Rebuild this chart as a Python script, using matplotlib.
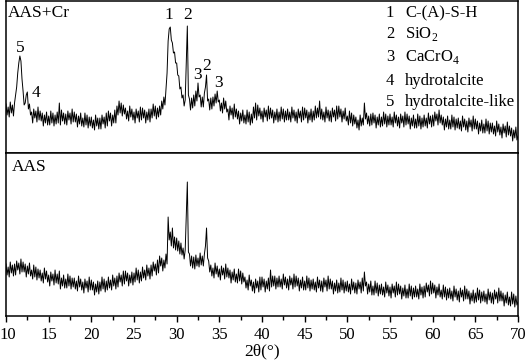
import numpy as np
import matplotlib
matplotlib.use("Agg")
import matplotlib.pyplot as plt
import matplotlib.transforms as mtransforms

plt.rcParams['font.family'] = ['Liberation Serif', 'DejaVu Serif']
plt.rcParams['mathtext.fontset'] = 'custom'
plt.rcParams['mathtext.rm'] = 'Liberation Serif'

# 2theta grid (degrees), 0.125 step from 10 to 70
two_theta = np.arange(481) * 0.125 + 10.0

# AAS+Cr intensity (arbitrary units), 8 values per degree
aas_cr = [
    49, 38, 46, 36, 51, 40, 48, 37,
    50, 58, 66, 80, 90, 97, 92, 74,
    62, 48, 50, 58, 61, 44, 49, 38,
    41, 30, 44, 35, 42, 31, 46, 33,
    42, 32, 40, 27, 38, 30, 41, 28,
    37, 28, 42, 30, 40, 27, 38, 29,
    41, 30, 50, 28, 43, 32, 40, 29,
    39, 28, 42, 33, 40, 29, 44, 31,
    41, 31, 39, 26, 37, 29, 40, 27,
    35, 26, 40, 28, 38, 25, 36, 27,
    36, 25, 33, 23, 38, 27, 35, 24,
    35, 24, 38, 29, 36, 25, 40, 27,
    42, 32, 40, 27, 38, 30, 43, 30,
    47, 38, 52, 40, 50, 37, 48, 39,
    45, 34, 42, 32, 47, 36, 44, 33,
    41, 30, 44, 35, 42, 31, 46, 33,
    45, 35, 43, 30, 41, 33, 44, 31,
    44, 35, 49, 37, 47, 34, 45, 36,
    47, 38, 52, 44, 56, 48, 64, 80,
    112, 124, 126, 113, 110, 100, 101, 90,
    90, 78, 77, 64, 66, 55, 58, 47,
    53, 92, 127, 58, 54, 43, 55, 45,
    58, 47, 62, 52, 70, 56, 58, 46,
    56, 46, 60, 66, 78, 52, 54, 43,
    55, 44, 56, 47, 59, 50, 62, 51,
    53, 42, 50, 40, 55, 44, 52, 41,
    44, 33, 47, 38, 45, 34, 49, 36,
    44, 34, 42, 29, 40, 32, 43, 30,
    38, 29, 43, 31, 41, 28, 39, 30,
    46, 35, 50, 33, 48, 37, 45, 34,
    42, 31, 45, 36, 43, 32, 47, 34,
    45, 35, 43, 30, 41, 33, 44, 31,
    41, 32, 46, 34, 44, 31, 42, 33,
    44, 33, 41, 31, 46, 35, 43, 32,
    41, 30, 44, 35, 42, 31, 46, 33,
    45, 35, 43, 30, 41, 33, 44, 31,
    42, 33, 47, 35, 45, 36, 52, 34,
    44, 33, 41, 31, 46, 35, 43, 32,
    42, 31, 45, 36, 43, 32, 47, 34,
    47, 36, 44, 31, 42, 34, 45, 32,
    37, 28, 42, 30, 40, 27, 38, 29,
    36, 25, 33, 23, 38, 27, 35, 28,
    50, 34, 40, 29, 37, 27, 39, 28,
    40, 30, 38, 25, 36, 28, 39, 26,
    36, 27, 41, 29, 39, 26, 37, 28,
    39, 28, 36, 26, 41, 30, 38, 27,
    36, 25, 39, 30, 37, 26, 41, 28,
    39, 29, 37, 24, 35, 27, 38, 25,
    34, 25, 39, 27, 37, 24, 35, 26,
    38, 27, 35, 25, 40, 29, 37, 26,
    38, 27, 41, 32, 39, 28, 43, 30,
    38, 28, 36, 23, 34, 26, 37, 24,
    33, 24, 38, 26, 36, 23, 34, 25,
    35, 24, 32, 22, 37, 26, 34, 23,
    32, 21, 35, 26, 33, 22, 37, 24,
    34, 24, 32, 19, 30, 22, 33, 20,
    29, 20, 34, 22, 32, 19, 30, 21,
    30, 19, 27, 17, 32, 21, 29, 18,
    26, 15, 29, 20, 27, 16, 31, 18,
    27, 17, 25, 12, 23, 15, 26, 13,
    17,
]

# AAS intensity, 8 values per degree
aas = [
    52, 41, 49, 39, 54, 43, 51, 40,
    52, 41, 55, 46, 53, 42, 57, 44,
    54, 44, 52, 39, 50, 42, 53, 40,
    46, 37, 51, 39, 49, 36, 47, 38,
    46, 35, 43, 33, 48, 37, 45, 34,
    41, 30, 44, 35, 42, 31, 46, 33,
    42, 32, 45, 27, 38, 30, 41, 28,
    37, 28, 42, 30, 40, 27, 38, 29,
    38, 27, 35, 25, 40, 29, 37, 26,
    34, 23, 37, 28, 35, 24, 39, 26,
    36, 26, 34, 21, 32, 24, 35, 22,
    34, 25, 39, 27, 37, 24, 35, 26,
    39, 28, 36, 26, 41, 30, 38, 27,
    40, 29, 43, 34, 41, 30, 45, 32,
    45, 35, 43, 30, 41, 33, 44, 31,
    43, 34, 48, 36, 46, 33, 44, 35,
    49, 38, 46, 36, 51, 40, 48, 37,
    51, 40, 54, 45, 52, 41, 56, 43,
    60, 50, 58, 45, 56, 48, 62, 52,
    99, 76, 84, 70, 88, 68, 79, 66,
    78, 65, 75, 62, 73, 61, 68, 57,
    66, 100, 134, 64, 62, 50, 60, 48,
    59, 47, 61, 50, 58, 49, 63, 51,
    60, 50, 62, 70, 88, 58, 55, 44,
    51, 40, 48, 38, 53, 42, 50, 39,
    47, 36, 50, 41, 48, 37, 52, 39,
    48, 38, 46, 33, 44, 36, 47, 34,
    42, 33, 47, 35, 45, 32, 43, 34,
    39, 28, 36, 26, 41, 30, 36, 25,
    34, 23, 37, 28, 35, 24, 39, 26,
    39, 29, 37, 24, 35, 27, 38, 25,
    46, 29, 40, 30, 40, 27, 38, 29,
    40, 29, 37, 27, 42, 31, 39, 28,
    37, 26, 40, 31, 38, 27, 42, 29,
    40, 30, 38, 25, 36, 28, 39, 26,
    35, 26, 40, 28, 38, 25, 36, 27,
    37, 26, 34, 24, 39, 28, 36, 25,
    35, 24, 38, 29, 36, 25, 40, 27,
    37, 27, 35, 22, 33, 25, 36, 23,
    33, 24, 38, 26, 36, 23, 34, 25,
    35, 24, 32, 22, 37, 26, 34, 23,
    33, 22, 36, 27, 34, 23, 38, 25,
    44, 30, 34, 22, 32, 24, 35, 21,
    30, 21, 35, 23, 33, 20, 31, 22,
    32, 21, 29, 19, 34, 23, 31, 20,
    29, 18, 32, 23, 30, 19, 34, 21,
    32, 22, 30, 17, 28, 20, 31, 18,
    27, 18, 32, 20, 30, 17, 28, 19,
    30, 19, 27, 17, 32, 21, 29, 18,
    30, 19, 33, 24, 31, 20, 35, 22,
    33, 23, 31, 18, 29, 21, 32, 19,
    26, 17, 31, 19, 29, 16, 27, 18,
    28, 17, 25, 15, 30, 19, 27, 16,
    25, 14, 28, 19, 26, 15, 30, 17,
    27, 17, 25, 12, 23, 15, 26, 13,
    23, 14, 28, 16, 26, 13, 24, 15,
    25, 14, 22, 12, 27, 16, 24, 13,
    23, 12, 26, 17, 24, 13, 28, 15,
    25, 15, 23, 10, 21, 13, 24, 11,
    19, 10, 24, 12, 22, 9, 20, 11,
    14,
]

x_ticks = [10, 15, 20, 25, 30, 35, 40, 45, 50, 55, 60, 65, 70]
legend_items = ["C-(A)-S-H", "SiO$_\\mathregular{2}$", "CaCrO$_\\mathregular{4}$",
                "hydrotalcite", "hydrotalcite-like"]
peak_labels = [("5", 11.65, 105), ("4", 13.5, 60), ("1", 29.1, 138), ("2", 31.3, 138),
               ("3", 32.4, 78), ("2", 33.55, 87), ("3", 34.96, 70)]

W, H = 526, 361
fig = plt.figure(figsize=(W / 100, H / 100), dpi=100)
left, right = 6 / W, 518 / W
ax1 = fig.add_axes([left, 1 - 153 / H, right - left, 152 / H])
ax2 = fig.add_axes([left, 1 - 316 / H, right - left, 163 / H])

for ax in (ax1, ax2):
    ax.set_xlim(10, 70)
    ax.set_yticks([])
    for s in ax.spines.values():
        s.set_linewidth(1.1)

ax1.plot(two_theta, aas_cr, color='black', lw=0.7)
ax2.plot(two_theta, aas, color='black', lw=0.7)
ax1.set_ylim(0, 152)
ax2.set_ylim(0, 163)

ax1.set_xticks([])
ax1.tick_params(axis='x', which='both', bottom=False, labelbottom=False)
ax2.set_xticks(x_ticks)
ax2.set_xticklabels([str(t) for t in x_ticks])
ax2.set_xticks(np.array(x_ticks[:-1]) + 2.5, minor=True)
ax2.tick_params(axis='x', which='major', direction='out', length=4, width=1, labelsize=12, pad=4)
ax2.tick_params(axis='x', which='minor', direction='out', length=3, width=1)
ax2.set_xlabel("2θ(°)", fontsize=12.5, labelpad=0.5)

# nudge the first tick label so it stays inside the canvas
first = ax2.get_xticklabels()[0]
first.set_transform(first.get_transform() +
                    mtransforms.ScaledTranslation(1.5 / 100, 0, fig.dpi_scale_trans))

ax1.text(0.003, 0.921, "AAS+Cr", transform=ax1.transAxes, fontsize=12.5, va='center', ha='left')
ax2.text(0.0117, 0.917, "AAS", transform=ax2.transAxes, fontsize=12.5, va='center', ha='left')

for lab, xx, yy in peak_labels:
    ax1.text(xx, yy, lab, fontsize=12.5, ha='center', va='center')

leg_y = [140, 119, 96, 72, 51]
for i, (txt, yy) in enumerate(zip(legend_items, leg_y)):
    ax1.text(55.0, yy, str(i + 1), fontsize=12, ha='center', va='center')
    ax1.text(56.75, yy, txt, fontsize=12, ha='left', va='center')

fig.savefig("out.png", dpi=100)
